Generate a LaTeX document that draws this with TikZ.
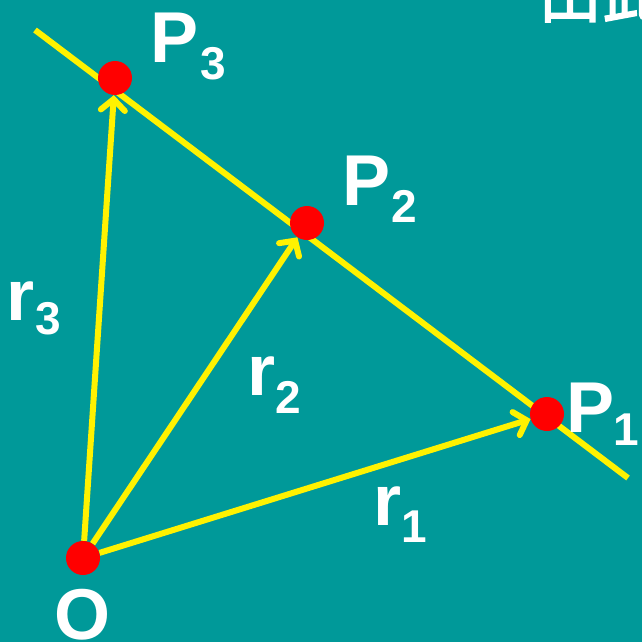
\documentclass[tikz,border=0pt]{standalone}
\usepackage{fontspec}
\setmainfont{Liberation Sans}
\newfontfamily\cjk[FakeBold=2]{Noto Sans CJK SC}
\usetikzlibrary{arrows.meta}
\definecolor{bg}{HTML}{009999}
\begin{document}
\begin{tikzpicture}[x=1pt,y=-1pt,
  lab/.style={text=white,font=\fontsize{72}{72}\selectfont\bfseries,anchor=base west,inner sep=0pt},
  sublab/.style={text=white,font=\fontsize{46}{46}\selectfont\bfseries,anchor=base west,inner sep=0pt},
  pt/.style={circle,minimum size=34pt,inner sep=0pt},
  yl/.style={yellow,line width=6pt},
  vec/.style={yl,-{Straight Barb[length=11pt,width=24pt,line cap=round]}}]
\useasboundingbox (0,0) rectangle (642,642);
\fill[bg] (0,0) rectangle (642,642);
\clip (0,0) rectangle (642,642);
% points
\node[pt] (O) at (83,558) {};
\node[pt] (P1) at (547,414) {};
\node[pt] (P2) at (307,223) {};
\node[pt] (P3) at (115,78) {};
\coordinate (L1) at (35,30);
\coordinate (L2) at (628,478);
% line
\draw[yl] (L1) -- (L2);
% vectors
\draw[vec] (O) -- (P1);
\draw[vec] (O) -- (P2);
\draw[vec] (O) -- (P3);
% dots
\foreach \p in {O,P1,P2,P3} \fill[red] (\p) circle (17pt);
% labels
\node[lab] (tP3) at (150,63) {P};
\node[sublab] (tP3s) at (200,79) {3};
\node[lab] (tP2) at (342,205) {P};
\node[sublab] (tP2s) at (391,222) {2};
\node[lab] (tP1) at (566,432) {P};
\node[sublab] (tP1s) at (613,445) {1};
\node[lab] (tO) at (54,639) {O};
\node[lab] (tr3) at (6,320) {r};
\node[sublab] (tr3s) at (35,334) {3};
\node[lab] (tr2) at (247,395) {r};
\node[sublab] (tr2s) at (275,413) {2};
\node[lab] (tr1) at (373,525) {r};
\node[sublab] (tr1s) at (401,542) {1};
\node[text=white,font=\cjk\fontsize{64}{64}\selectfont,anchor=base west,inner sep=0pt] (title) at (538,17) {由此};
\end{tikzpicture}
\end{document}
